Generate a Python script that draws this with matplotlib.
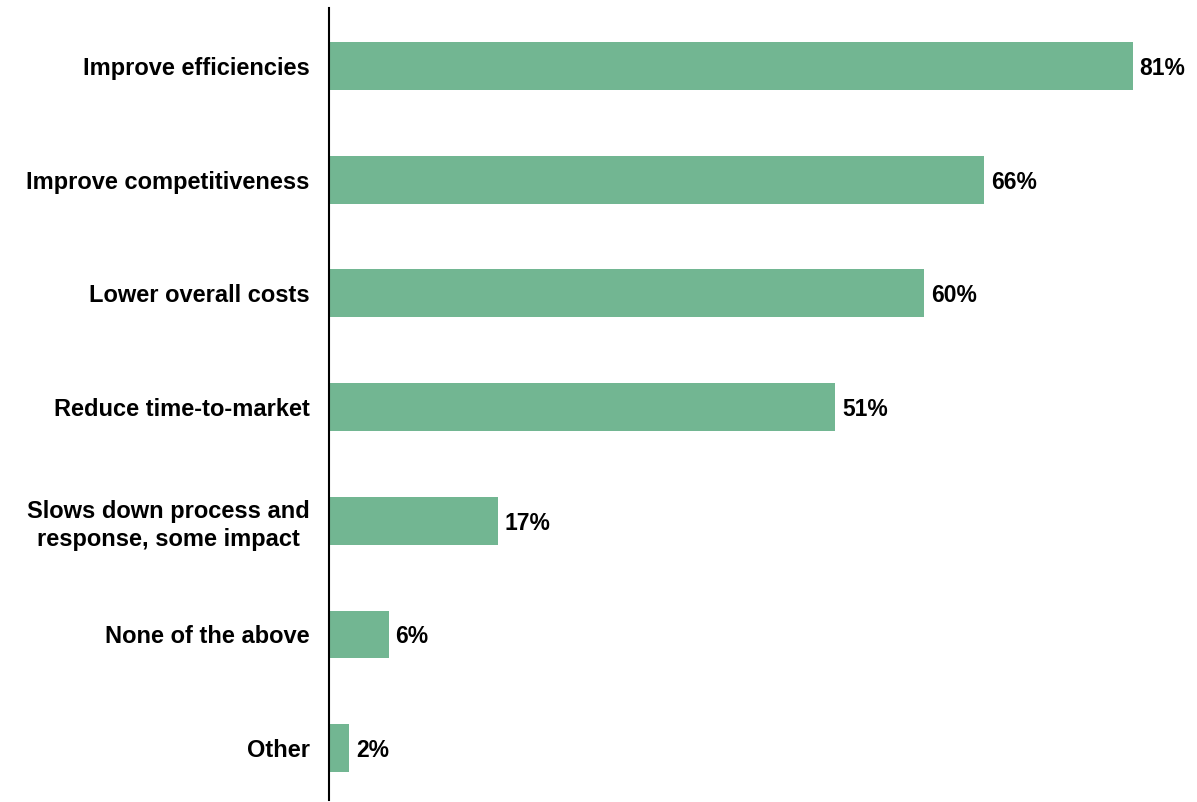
import matplotlib
matplotlib.use("Agg")
import matplotlib.pyplot as plt

categories = [
    "Improve efficiencies",
    "Improve competitiveness",
    "Lower overall costs",
    "Reduce time-to-market",
    "Slows down process and\nresponse, some impact",
    "None of the above",
    "Other",
]
values = [81, 66, 60, 51, 17, 6, 2]

plt.rcParams["font.family"] = ["Liberation Sans", "DejaVu Sans"]

W, H, DPI = 1197, 802, 100
fig = plt.figure(figsize=(W / DPI, H / DPI), dpi=DPI)
left_px, right_px, top_px, bot_px = 329, 1197, 8, 800
ax = fig.add_axes([left_px / W, 1 - bot_px / H, (right_px - left_px) / W, (bot_px - top_px) / H])

bar_color = "#72B692"
pos = list(range(len(categories)))
ax.barh(pos, values, height=0.42, color=bar_color, zorder=2)

ax.set_xlim(0, 87.5)
ax.set_ylim(6.456, -0.51)

for y, v in zip(pos, values):
    ax.annotate(f"{v}%", xy=(v, y), xytext=(5, 0), textcoords="offset points",
                ha="left", va="center_baseline", fontsize=16.5, fontweight="bold",
                color="#000000")

ax.set_yticks(pos)
ax.set_yticklabels(categories, fontsize=17, fontweight="bold", color="#000000",
                   multialignment="center", linespacing=1.25)
ax.tick_params(axis="y", length=0, pad=14)
ax.set_xticks([])

for s in ["top", "right", "bottom"]:
    ax.spines[s].set_visible(False)
ax.spines["left"].set_linewidth(1.5)
ax.spines["left"].set_color("#000000")

fig.savefig("out.png", dpi=DPI)
